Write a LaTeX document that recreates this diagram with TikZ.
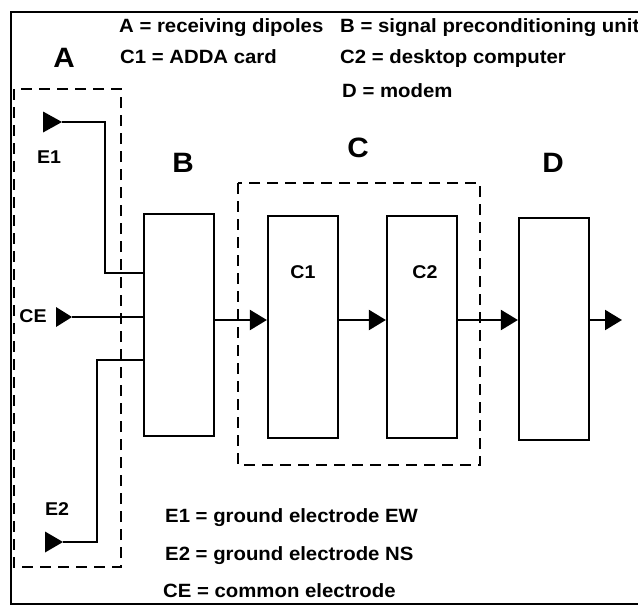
\documentclass[tikz,border=0pt]{standalone}
\usepackage{fontspec}
\setmainfont{Liberation Sans}[FakeStretch=1.06]
\usetikzlibrary{positioning,arrows.meta}
\tikzset{
  blk/.style={draw,line width=2.2pt,minimum width=70pt,minimum height=222pt,inner sep=0pt},
  grp/.style={line width=2.2pt,dash pattern=on 11pt off 7pt},
  wire/.style={line width=2.2pt},
  sig/.style={line width=2.2pt,-{Triangle[length=17pt,width=20pt]}},
  lgd/.style={font=\fontsize{19.2}{21}\selectfont\bfseries,anchor=base west,inner sep=0pt},
  ttl/.style={font=\fontsize{28}{30}\selectfont\bfseries,anchor=base,inner sep=0pt},
  lbl/.style={font=\fontsize{18.5}{20}\selectfont\bfseries,anchor=base,inner sep=0pt},
  inhead/.style={fill=black}
}

\begin{document}
\begin{tikzpicture}[x=1pt,y=-1pt]
  \useasboundingbox (0,0) rectangle (638,606);
  \draw[line width=2.2pt] (11,12) rectangle (660,604);
  % legend
  \node[lgd] (legA) at (119,32) {A = receiving dipoles}; \node[lgd] (legB) at (340,32) {B = signal preconditioning unit};
  \node[lgd] (legC1) at (120,63) {C1 = ADDA card}; \node[lgd] (legC2) at (340,63) {C2 = desktop computer};
  \node[lgd] (legD) at (342,97) {D = modem};
  \node[lgd] (legE1) at (165,522) {E1 = ground electrode EW}; \node[lgd] (legE2) at (165,560) {E2 = ground electrode NS};
  \node[lgd] (legCE) at (163,597) {CE = common electrode};
  % units
  \node[blk] (boxB) at (179,325) {}; \node[blk] (boxC1) at (303,327) {};
  \node[blk] (boxC2) at (422,327) {}; \node[blk] (boxD) at (554,329) {};
  \draw[grp] (14,89) rectangle (121,567); \draw[grp] (238,183) rectangle (480,465);
  \node[ttl] (ttlA) at (64,67) {A}; \node[ttl] (ttlB) at (183,172) {B};
  \node[ttl] (ttlC) at (358,157) {C}; \node[ttl] (ttlD) at (553,172) {D};
  \node[lbl] (labC1) at (303,278) {C1}; \node[lbl] (labC2) at (425,278) {C2};
  % electrodes
  \node[lbl] (labE1) at (49,163) {E1}; \node[lbl] (labCE) at (33,322) {CE}; \node[lbl] (labE2) at (57,515) {E2};
  \coordinate (inE1) at (62,122); \coordinate (inCE) at (72,317); \coordinate (inE2) at (63,542);
  \fill[inhead] (inE1) -- ++(-19,-10.5) -- ++(0,21) -- cycle;
  \fill[inhead] (inCE) -- ++(-16,-10) -- ++(0,20) -- cycle;
  \fill[inhead] (inE2) -- ++(-18,-10.5) -- ++(0,21) -- cycle;
  \coordinate (kE1) at (105,273); \coordinate (kE2) at (97,360);
  \draw[wire] (inE1) -| (kE1) -- (kE1 -| boxB.west);
  \draw[wire] (inCE) -- (inCE -| boxB.west);
  \draw[wire] (inE2) -| (kE2) -- (kE2 -| boxB.west);
  % signal chain
  \coordinate (lvl) at (0,320); \coordinate (out) at (622,320);
  \draw[sig] (boxB.east |- lvl) -- (boxC1.west |- lvl);
  \draw[sig] (boxC1.east |- lvl) -- (boxC2.west |- lvl);
  \draw[sig] (boxC2.east |- lvl) -- (boxD.west |- lvl);
  \draw[sig] (boxD.east |- lvl) -- (out);
\end{tikzpicture}
\end{document}
